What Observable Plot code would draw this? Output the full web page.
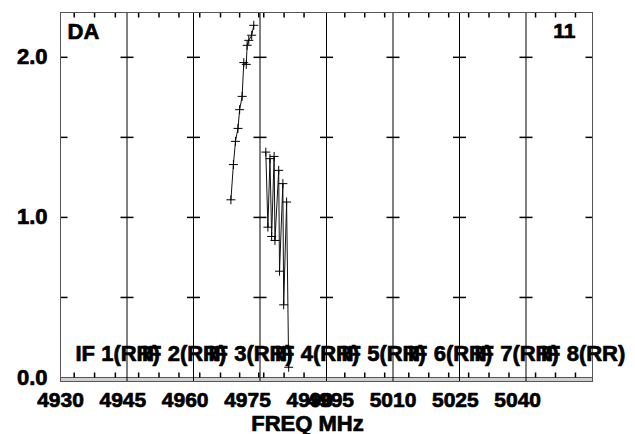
<!DOCTYPE html>
<html><head><meta charset="utf-8">
<script src="https://cdn.jsdelivr.net/npm/d3@7"></script>
<script src="https://cdn.jsdelivr.net/npm/@observablehq/plot@0.6"></script>
<style>body{margin:0;background:#fff}</style>
</head><body><div id="chart"></div>
<script>
// Data (AIPS POSSM-like plot, baseline "DA", source 11)
const if3Freq = [4971.0, 4971.6, 4972.1, 4972.7, 4973.1, 4973.7, 4974.1, 4974.7, 4974.9, 4975.3, 4976.0, 4976.5];
const if3Amp  = [1.11, 1.33, 1.475, 1.556, 1.673, 1.756, 1.967, 1.956, 2.075, 2.106, 2.138, 2.20];
const if4Freq = [4979.4, 4979.9, 4980.4, 4980.8, 4981.4, 4981.6, 4982.5, 4982.7, 4983.5, 4983.7, 4984.4, 4984.9];
const if4Amp  = [1.408, 0.939, 1.367, 0.881, 1.381, 0.856, 1.294, 0.664, 1.211, 0.454, 1.096, 0.064];

const ifStarts = [4930, 4946, 4962, 4978, 4994, 5010, 5026, 5042];
const ifLabels = ["IF 1(RR)", "IF 2(RR)", "IF 3(RR)", "IF 4(RR)", "IF 5(RR)", "IF 6(RR)", "IF 7(RR)", "IF 8(RR)"];
const dividers = [4946, 4962, 4978, 4994, 5010, 5026, 5042];
const xDomain = [4930, 5058];
const yDomain = [-0.025, 2.28];
const gridLevels = [0.5, 1.0, 1.5, 2.0];
const xTickLabels = [4930, 4945, 4960, 4975, 4990, 4995, 5010, 5025, 5040];
const yTickLabels = [0, 1, 2];
const minorTicks = [4933.3, 4938.2, 4943.2, 4948.8, 4953.7, 4958.5, 4963.5, 4968.5, 4973.1, 4977.7,
  4978.9, 4983.8, 4988.6, 4998.4, 5003.2, 5008.0, 5013.8, 5018.6, 5023.4, 5028.2, 5033.1, 5037.9,
  5044.3, 5049.1, 5053.9];
const title = "DA";
const sourceId = "11";
const xTitle = "FREQ MHz";

const if3 = if3Freq.map((f, i) => ({f, a: if3Amp[i]}));
const if4 = if4Freq.map((f, i) => ({f, a: if4Amp[i]}));
const crosses = dividers.flatMap(x => gridLevels.map(y => ({x, y})));

const seg = (x0, y0, x1, y1) => ({
  draw(ctx, size) {
    const r = Math.sqrt(size / Math.PI);
    ctx.moveTo(x0 * r, y0 * r);
    ctx.lineTo(x1 * r, y1 * r);
  }
});
const hBoth = seg(-1, 0, 1, 0), hRight = seg(0, 0, 1, 0), hLeft = seg(-1, 0, 0, 0);
const vDown = seg(0, 0, 0, 1), vUp = seg(0, -1, 0, 0);

const FONT = "Liberation Sans";
const font = {fontWeight: "bold"};
const chart = Plot.plot({
  width: 635, height: 434,
  marginTop: 12, marginBottom: 53, marginLeft: 60, marginRight: 43,
  x: {domain: xDomain},
  y: {domain: yDomain},
  marks: [
    Plot.rect([yDomain[0]], {y1: d => d, y2: 0, fill: "#d0d0d0"}),
    Plot.ruleY([0], {stroke: "#555"}),
    Plot.ruleX(dividers, {stroke: "black"}),
    Plot.dot(crosses, {x: "x", y: "y", symbol: hBoth, r: 6.5, stroke: "black", fill: "none"}),
    Plot.dot(gridLevels, {y: d => d, frameAnchor: "left", symbol: hRight, r: 7, stroke: "black", fill: "none"}),
    Plot.dot(gridLevels, {y: d => d, frameAnchor: "right", symbol: hLeft, r: 7, stroke: "black", fill: "none"}),
    Plot.dot(minorTicks, {x: d => d, frameAnchor: "top", symbol: vDown, r: 5, stroke: "black", fill: "none"}),
    Plot.dot(minorTicks, {x: d => d, y: 0, symbol: vUp, r: 5, stroke: "black", fill: "none"}),
    Plot.frame({stroke: "#555"}),
    Plot.line(if3, {x: "f", y: "a", stroke: "#111", strokeWidth: 1}),
    Plot.dot(if3, {x: "f", y: "a", symbol: "plus", r: 3, stroke: "black", strokeWidth: 1}),
    Plot.line(if4, {x: "f", y: "a", stroke: "#111", strokeWidth: 1}),
    Plot.dot(if4, {x: "f", y: "a", symbol: "plus", r: 3, stroke: "black", strokeWidth: 1}),
    Plot.axisX({ticks: xTickLabels, tickSize: 0, tickPadding: 11, tickFormat: d3.format("d"), fontSize: 21, ...font, label: null}),
    Plot.axisY({ticks: yTickLabels, tickSize: 0, tickPadding: 13, tickFormat: d3.format(".1f"), fontSize: 22, ...font, label: null}),
    Plot.text(ifLabels, {x: (d, i) => ifStarts[i], frameAnchor: "bottom", textAnchor: "start", lineAnchor: "middle", dx: 15, dy: -28, fontSize: 22, ...font}),
    Plot.text([xTitle], {frameAnchor: "bottom", lineAnchor: "middle", dx: -19, dy: 42, fontSize: 22, ...font}),
    Plot.text([title], {frameAnchor: "top-left", textAnchor: "start", lineAnchor: "top", dx: 7, dy: 11, fontSize: 22, ...font}),
    Plot.text([sourceId], {frameAnchor: "top-right", textAnchor: "end", lineAnchor: "top", dx: -17, dy: 11, fontSize: 21, ...font})
  ]
});
document.getElementById("chart").appendChild(chart);
chart.style.background = "white";
chart.style.overflow = "visible";
chart.querySelectorAll("text").forEach(t => {
  t.setAttribute("font-family", FONT);
  t.setAttribute("font-weight", "bold");
  t.setAttribute("stroke", "black");
  t.setAttribute("stroke-width", "0.7");
  t.setAttribute("stroke-linejoin", "round");
});
</script>
</body></html>
